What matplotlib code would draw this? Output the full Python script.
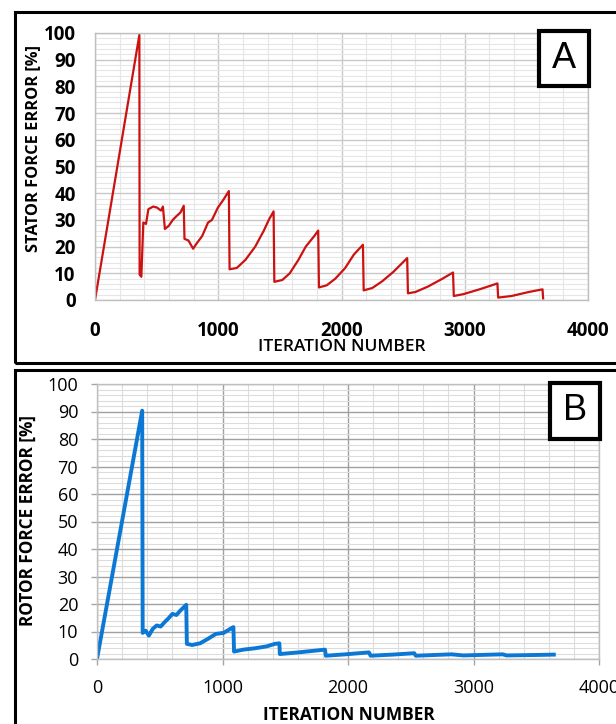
import matplotlib
matplotlib.use("Agg")
import matplotlib.pyplot as plt
from matplotlib.patches import Rectangle
from matplotlib.ticker import MultipleLocator

plt.rcParams['font.family'] = ['Open Sans', 'DejaVu Sans']

# ---- data ----
stator_x = [0, 360, 362, 376, 392, 414, 433, 472, 504, 520,
            536, 551, 567, 599, 631, 663, 694, 720, 726, 758,
            796, 822, 870, 917, 949, 997, 1044, 1086,
            1092, 1150, 1220, 1300, 1370, 1410, 1449,
            1455, 1520, 1580, 1650, 1710, 1780, 1811,
            1817, 1880, 1950, 2030, 2100, 2174,
            2180, 2250, 2330, 2420, 2533,
            2539, 2600, 2700, 2820, 2905,
            2911, 2990, 3120, 3265,
            3271, 3380, 3520, 3631, 3636]
stator_y = [0, 99.3, 9.5, 8.7, 29, 28.5, 34, 35, 34.6, 34,
            33.5, 35, 26.6, 27.8, 30, 31.5, 32.8, 35.3, 22.9, 22.3,
            19.2, 21, 24, 29, 30, 34.6, 37.7, 40.8,
            11.5, 12, 15, 20, 26, 30, 33.2,
            6.8, 7.5, 10, 15, 20, 24, 26,
            4.7, 5.5, 8, 12, 17, 20.7,
            3.6, 4.5, 7, 10.5, 15.7,
            2.5, 3, 5, 8, 10.3,
            1.5, 2.2, 4, 6.2,
            0.9, 1.5, 3, 4.0, 0.6]

rotor_x = [0, 360, 364, 388, 413, 445, 476, 507, 539, 570,
           601, 633, 664, 711, 716, 758, 821, 883, 946, 1009,
           1071, 1087, 1092, 1165, 1259, 1353, 1416, 1453, 1457, 1604,
           1729, 1817, 1823, 1980, 2167, 2180, 2355, 2528, 2540, 2825,
           2919, 3233, 3264, 3546, 3640]
rotor_y = [0, 90.3, 9.5, 10.3, 8.5, 11, 12.2, 11.8, 13.4, 14.8,
           16.4, 16, 17.6, 19.7, 5.5, 5.1, 5.7, 7.3, 9.1, 9.5,
           11.2, 11.6, 2.7, 3.4, 3.9, 4.6, 5.5, 5.7, 1.8, 2.4,
           3.0, 3.4, 1.2, 1.7, 2.4, 1.2, 1.6, 2.1, 1.2, 1.7,
           1.3, 1.7, 1.3, 1.5, 1.6]

x_ticks = [0, 1000, 2000, 3000, 4000]
y_ticks = [0, 10, 20, 30, 40, 50, 60, 70, 80, 90, 100]

W, H = 616, 724
fig = plt.figure(figsize=(W / 100, H / 100), dpi=100)


def fx(px):
    return px / W


def fy(py):
    return 1 - py / H


def style_axes(ax, major_col, minor_col):
    ax.set_xlim(0, 4000)
    ax.set_ylim(0, 100)
    ax.set_xticks(x_ticks)
    ax.set_yticks(y_ticks)
    ax.xaxis.set_minor_locator(MultipleLocator(200))
    ax.yaxis.set_minor_locator(MultipleLocator(2))
    ax.grid(which='minor', color=minor_col, lw=0.8)
    ax.grid(which='major', color=major_col, lw=1.0)
    ax.set_axisbelow(True)
    for s in ax.spines.values():
        s.set_color('#BFBFBF')
        s.set_linewidth(1.0)


# ---- Panel A ----
axA = fig.add_axes([fx(95), fy(300), (588 - 95) / W, (300 - 33) / H])
style_axes(axA, '#C8C8C8', '#E6E6E6')
axA.plot(stator_x, stator_y, color='#CC1111', lw=1.6)
axA.tick_params(which='both', length=0)
axA.tick_params(axis='y', pad=14, labelsize=13.5)
axA.tick_params(axis='x', pad=15, labelsize=13.5)
for lab in axA.get_xticklabels() + axA.get_yticklabels():
    lab.set_fontweight('bold')
axA.set_ylabel('STATOR FORCE ERROR [%]', fontsize=11.8, fontweight='bold', va='center')
axA.yaxis.set_label_coords(-0.126, 0.569)
axA.set_xlabel('ITERATION NUMBER', fontsize=12.5, fontweight='semibold', va='center')
axA.xaxis.set_label_coords(0.5, -0.176)

# ---- Panel B ----
axB = fig.add_axes([fx(97), fy(659), (599 - 97) / W, (659 - 384) / H])
style_axes(axB, '#A0A0A0', '#DCDCDC')
axB.plot(rotor_x, rotor_y, color='#0A78D4', lw=2.8)
axB.tick_params(which='minor', length=0)
axB.tick_params(which='major', length=4.5, color='#A6A6A6', width=1.0)
axB.tick_params(axis='y', pad=9, labelsize=13)
axB.tick_params(axis='x', pad=10, labelsize=13)
axB.set_ylabel('ROTOR FORCE ERROR [%]', fontsize=12.3, fontweight='bold', va='center')
axB.yaxis.set_label_coords(-0.137, 0.502)
axB.set_xlabel('ITERATION NUMBER', fontsize=12.5, fontweight='bold', va='center')
axB.xaxis.set_label_coords(0.502, -0.204)

# ---- outer frames ----
fig.patches.append(Rectangle((fx(15), fy(363)), 1.2, (363 - 12) / H,
                             transform=fig.transFigure, fill=False,
                             edgecolor='black', lw=2.2, zorder=10))
fig.patches.append(Rectangle((fx(15), -0.1), 1.2, fy(370) + 0.1,
                             transform=fig.transFigure, fill=False,
                             edgecolor='black', lw=2.2, zorder=10))

# ---- panel letters ----
for (x0, y0, x1, y1, letter) in [(539, 31, 589, 86, 'A'), (550, 383, 600, 439, 'B')]:
    fig.patches.append(Rectangle((fx(x0), fy(y1)), (x1 - x0) / W, (y1 - y0) / H,
                                 transform=fig.transFigure, facecolor='white',
                                 edgecolor='black', lw=3, zorder=10))
    fig.text(fx((x0 + x1) / 2), fy((y0 + y1) / 2), letter, ha='center', va='center',
             fontsize=26, family=['Liberation Sans', 'DejaVu Sans'], zorder=11)

fig.savefig('out.png', dpi=100)
